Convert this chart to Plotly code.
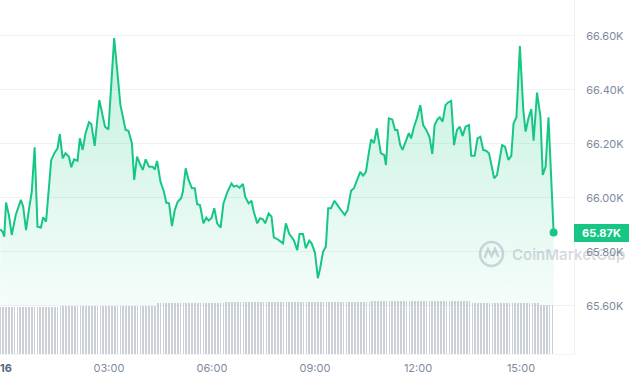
import numpy as np
import pandas as pd
import plotly.graph_objects as go

# ---------------- data ----------------
day = "2024-03-16"
# minutes after 00:00 on the 16th
minutes = [-10, -6, -3, 0, 5, 10, 17, 26, 30, 35,
           40, 45, 50, 55, 61, 65, 70, 79, 85, 90,
           94, 99, 104, 110, 114, 119, 125, 129, 134, 139,
           145, 149, 155, 163, 168, 173, 179, 189, 200, 209,
           214, 220, 224, 229, 235, 239, 244, 250, 256, 260,
           264, 270, 276, 280, 285, 290, 295, 300, 306, 309,
           314, 319, 325, 330, 334, 339, 345, 350, 354, 359,
           364, 369, 375, 380, 387, 394, 398, 403, 408, 414,
           418, 424, 429, 433, 439, 444, 449, 453, 459, 464,
           468, 474, 484, 489, 495, 503, 509, 513, 519, 524,
           530, 534, 540, 545, 549, 554, 559, 563, 568, 574,
           581, 588, 592, 597, 603, 608, 612, 619, 624, 629,
           633, 638, 643, 648, 655, 661, 664, 669, 675, 680,
           684, 689, 693, 699, 704, 708, 713, 718, 724, 729,
           734, 740, 745, 749, 754, 758, 763, 768, 772, 778,
           783, 788, 793, 798, 803, 809, 813, 819, 824, 829,
           834, 839, 844, 849, 853, 858, 863, 867, 872, 878,
           883, 887, 892, 898, 904, 908, 913, 918, 922, 928,
           934, 938, 943, 948, 957]
price = [65884, 65875, 65857, 65983, 65937, 65863, 65937, 65993, 65968, 65881,
         65956, 66023, 66188, 65894, 65891, 65929, 65912, 66141, 66168, 66184,
         66237, 66147, 66166, 66153, 66114, 66143, 66138, 66221, 66178, 66240,
         66281, 66274, 66193, 66363, 66314, 66264, 66254, 66592, 66344, 66252,
         66249, 66203, 66067, 66153, 66122, 66104, 66143, 66116, 66116, 66106,
         66137, 66060, 66023, 65983, 65980, 65896, 65956, 65986, 65999, 66023,
         66110, 66067, 66036, 66036, 65977, 65974, 65906, 65927, 65916, 65925,
         65962, 65906, 65890, 65980, 66023, 66054, 66042, 66046, 66038, 66052,
         66005, 65980, 65990, 65949, 65906, 65925, 65921, 65906, 65943, 65931,
         65854, 65848, 65832, 65906, 65867, 65844, 65807, 65867, 65867, 65814,
         65842, 65832, 65797, 65703, 65740, 65801, 65820, 65962, 65962, 65990,
         65968, 65946, 65937, 65956, 66027, 66036, 66060, 66097, 66083, 66097,
         66153, 66217, 66203, 66258, 66166, 66159, 66122, 66295, 66291, 66252,
         66252, 66196, 66178, 66209, 66240, 66221, 66264, 66295, 66344, 66270,
         66254, 66227, 66163, 66270, 66291, 66299, 66283, 66344, 66353, 66360,
         66196, 66252, 66264, 66230, 66264, 66270, 66156, 66156, 66221, 66227,
         66178, 66175, 66166, 66116, 66073, 66085, 66147, 66196, 66190, 66141,
         66156, 66277, 66299, 66563, 66326, 66246, 66295, 66329, 66212, 66390,
         66301, 66085, 66116, 66299, 65872]

# 5-minute volume bars (relative heights, billions USD)
volume_start_min = -10
volume = [28.4, 28.4, 28.4, 28.4, 28.4, 28.4, 28.4, 28.4, 28.4, 28.4, 28.4,
          28.4, 28.4, 28.4, 28.4, 28.4, 28.4, 28.4, 28.4, 28.4, 28.4,
          28.6, 28.6, 28.6, 28.6, 28.6, 28.6, 28.6, 28.6, 28.6, 28.6, 28.6,
          28.8, 28.8, 28.8, 28.8, 28.8, 28.8, 28.8, 28.8, 28.8,
          29.1, 29.1, 29.1, 29.1, 29.1, 29.1, 29.1, 29.1, 29.1, 29.1, 29.1, 29.1, 29.1, 29.1,
          30.4, 30.4, 30.4, 30.4, 30.4, 30.4, 30.4, 30.4, 30.4, 30.4, 30.4, 30.4,
          30.4, 30.4, 30.4, 30.4, 30.4, 30.4, 30.4, 30.4, 30.4, 30.4, 30.4, 30.4,
          31.2, 31.2, 31.2, 31.2, 31.2, 31.2, 31.2, 31.2, 31.2, 31.2, 31.2, 31.2, 31.2,
          31.2, 31.2, 31.2, 31.2, 31.2, 31.2, 31.2, 31.2, 31.2, 31.2, 31.2, 31.2, 31.2,
          31.2, 31.2, 31.2, 31.2, 31.2, 31.2, 31.2, 31.2, 31.2, 31.2, 31.2, 31.2, 31.2,
          31.2, 31.2, 31.2, 31.2, 31.2, 31.2, 31.2, 31.2, 31.2, 31.2, 31.2, 31.2,
          31.8, 31.8, 31.8, 31.8, 31.8, 31.8, 31.8, 31.8, 31.8, 31.8, 31.8, 31.8,
          31.8, 31.8, 31.8, 31.8, 31.8, 31.8, 31.8, 31.8, 31.8, 31.8, 31.8, 31.8,
          31.8, 31.8, 31.8, 31.8, 31.8, 31.8, 31.8, 31.8, 31.8, 31.8, 31.8,
          30.8, 30.8, 30.8, 30.8, 30.8, 30.8, 30.8, 30.8, 30.8, 30.8, 30.8, 30.8,
          30.8, 30.8, 30.8, 30.8, 30.8, 30.8, 30.8, 30.8, 30.8, 30.8, 30.8, 30.8,
          29.4, 29.4, 29.4, 29.4, 29.4]

x_tick_hours = [0, 3, 6, 9, 12, 15]
x_tick_text = ['<span style="color:#58667e"><b>16</b></span>',
               "03:00", "06:00", "09:00", "12:00", "15:00"]
y_tick_vals = [65600, 65800, 66000, 66200, 66400, 66600]
y_tick_text = ["65.60K", "65.80K", "66.00K", "66.20K", "66.40K", "66.60K"]
base_price = 65600

# ---------------- build ----------------
GREEN = "#16c784"
GREY = "#808a9d"
base = pd.Timestamp(day)
t = base + pd.to_timedelta(minutes, unit="min")
vol_t = base + pd.to_timedelta(volume_start_min + 5 * np.arange(len(volume)), unit="min")

fig = go.Figure()
fig.add_trace(go.Scatter(x=[t[0], t[-1]], y=[base_price, base_price], mode="lines",
                         line=dict(width=0, color="rgba(0,0,0,0)"), hoverinfo="skip"))
fig.add_trace(go.Scatter(
    x=t, y=price, mode="lines", line=dict(color=GREEN, width=2),
    fill="tonexty",
    fillgradient=dict(type="vertical", start=65600, stop=66600,
                      colorscale=[[0, "rgba(22,199,132,0.04)"], [1, "rgba(22,199,132,0.26)"]]),
))
fig.add_trace(go.Bar(x=vol_t, y=volume, yaxis="y2", marker=dict(color="#cbcfd6", line=dict(width=0)),
                     width=75000))
fig.add_trace(go.Scatter(x=[t[-1]], y=[price[-1]], mode="markers",
                         marker=dict(color=GREEN, size=8)))

W, H = 574.0, 354.0
fig.update_layout(
    width=630, height=380, margin=dict(l=0, r=56, t=0, b=26),
    paper_bgcolor="white", plot_bgcolor="white", showlegend=False,
    font=dict(family="Inter", size=11, color=GREY),
    bargap=0,
    xaxis=dict(type="date",
               range=[base + pd.Timedelta(minutes=-10.5), base + pd.Timedelta(minutes=992.6)],
               tickvals=[base + pd.Timedelta(hours=h) for h in x_tick_hours],
               ticktext=x_tick_text, showgrid=False, zeroline=False,
               showline=True, linecolor="#f3f4f6", ticks="",
               tickfont=dict(family="Inter", size=11, color=GREY), ticklabelstandoff=4),
    yaxis=dict(side="right", range=[65422.2, 66733.3], tickvals=y_tick_vals, ticktext=y_tick_text,
               gridcolor="#f0f2f5", gridwidth=1, zeroline=False, showline=True, linecolor="#eff2f5",
               ticks="", tickfont=dict(family="Inter", size=11, color=GREY), ticklabelstandoff=9),
    yaxis2=dict(overlaying="y", range=[0, 212.4], visible=False),
)

# last price badge
fig.add_annotation(xref="paper", x=1, xanchor="left", yref="y", y=price[-1], yanchor="middle",
                   text=f"<b>{price[-1] / 1000:.2f}K</b>", showarrow=False,
                   font=dict(family="Inter", size=11, color="white"),
                   bgcolor=GREEN, bordercolor=GREEN, borderwidth=1, borderpad=1,
                   width=51, height=14, align="center")

# watermark
wm = "rgba(128,138,157,0.33)"
fig.add_shape(type="circle", xref="paper", yref="paper",
              x0=480 / W, x1=503 / W, y0=1 - 266 / H, y1=1 - 242 / H,
              line=dict(color=wm, width=2.5), layer="above")
pts = [(484.5, 258), (488, 249), (491.5, 256), (495, 249), (498.5, 257)]
path = "M " + " L ".join(f"{x / W},{1 - y / H}" for x, y in pts)
fig.add_shape(type="path", xref="paper", yref="paper", path=path,
              line=dict(color=wm, width=2.5), layer="above")
fig.add_annotation(xref="paper", yref="paper", x=510 / W, y=1 - 254 / H, xanchor="left",
                   yanchor="middle", text="CoinMarketCap", showarrow=False,
                   font=dict(family="Inter", size=15, color=wm, weight=600))

fig.write_html("out.html")
